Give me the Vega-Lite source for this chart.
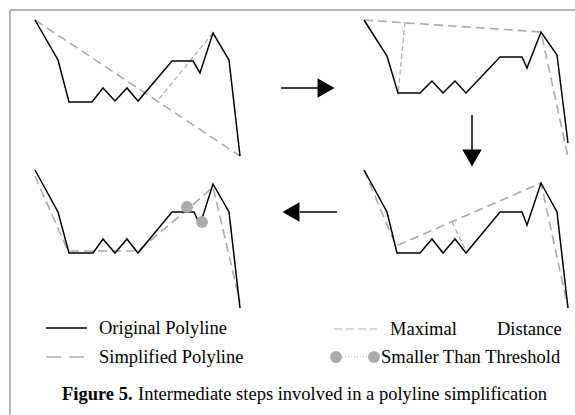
{
  "$schema": "https://vega.github.io/schema/vega-lite/v6.json",
  "width": 575,
  "height": 415,
  "autosize": "none",
  "padding": 0,
  "background": "white",
  "config": {"view": {"stroke": null}, "axis": {"disable": true}},
  "datasets": {
    "frame": [
      {"s": "top", "i": 0, "x": 10, "y": 10}, {"s": "top", "i": 1, "x": 575, "y": 10},
      {"s": "left", "i": 0, "x": 10, "y": 10}, {"s": "left", "i": 1, "x": 10, "y": 415}
    ],
    "orig": [
      {"p": "A", "i": 1, "x": 35, "y": 20}, {"p": "A", "i": 2, "x": 58, "y": 60}, {"p": "A", "i": 3, "x": 69, "y": 102}, {"p": "A", "i": 4, "x": 92, "y": 102}, {"p": "A", "i": 5, "x": 103, "y": 88}, {"p": "A", "i": 6, "x": 115, "y": 101}, {"p": "A", "i": 7, "x": 127, "y": 88}, {"p": "A", "i": 8, "x": 138, "y": 101}, {"p": "A", "i": 9, "x": 172, "y": 61}, {"p": "A", "i": 10, "x": 193, "y": 61}, {"p": "A", "i": 11, "x": 200, "y": 73}, {"p": "A", "i": 12, "x": 213, "y": 33}, {"p": "A", "i": 13, "x": 229, "y": 60}, {"p": "A", "i": 14, "x": 240, "y": 156},
      {"p": "B", "i": 1, "x": 364, "y": 20}, {"p": "B", "i": 2, "x": 387, "y": 56}, {"p": "B", "i": 3, "x": 398, "y": 93}, {"p": "B", "i": 4, "x": 420, "y": 93}, {"p": "B", "i": 5, "x": 432, "y": 81}, {"p": "B", "i": 6, "x": 443, "y": 93}, {"p": "B", "i": 7, "x": 455, "y": 81}, {"p": "B", "i": 8, "x": 466, "y": 93}, {"p": "B", "i": 9, "x": 500, "y": 57}, {"p": "B", "i": 10, "x": 522, "y": 57}, {"p": "B", "i": 11, "x": 527, "y": 68}, {"p": "B", "i": 12, "x": 541, "y": 32}, {"p": "B", "i": 13, "x": 557, "y": 55}, {"p": "B", "i": 14, "x": 568, "y": 143},
      {"p": "C", "i": 1, "x": 364, "y": 170}, {"p": "C", "i": 2, "x": 387, "y": 212}, {"p": "C", "i": 3, "x": 397, "y": 253}, {"p": "C", "i": 4, "x": 420, "y": 253}, {"p": "C", "i": 5, "x": 432, "y": 239}, {"p": "C", "i": 6, "x": 443, "y": 253}, {"p": "C", "i": 7, "x": 455, "y": 239}, {"p": "C", "i": 8, "x": 466, "y": 253}, {"p": "C", "i": 9, "x": 500, "y": 212}, {"p": "C", "i": 10, "x": 522, "y": 212}, {"p": "C", "i": 11, "x": 527, "y": 225}, {"p": "C", "i": 12, "x": 541, "y": 183}, {"p": "C", "i": 13, "x": 557, "y": 212}, {"p": "C", "i": 14, "x": 568, "y": 308},
      {"p": "D", "i": 1, "x": 35, "y": 170}, {"p": "D", "i": 2, "x": 58, "y": 212}, {"p": "D", "i": 3, "x": 69, "y": 253}, {"p": "D", "i": 4, "x": 93, "y": 253}, {"p": "D", "i": 5, "x": 103, "y": 239}, {"p": "D", "i": 6, "x": 115, "y": 253}, {"p": "D", "i": 7, "x": 127, "y": 239}, {"p": "D", "i": 8, "x": 138, "y": 253}, {"p": "D", "i": 9, "x": 172, "y": 212}, {"p": "D", "i": 10, "x": 194, "y": 212}, {"p": "D", "i": 11, "x": 200, "y": 225}, {"p": "D", "i": 12, "x": 213, "y": 184}, {"p": "D", "i": 13, "x": 229, "y": 212}, {"p": "D", "i": 14, "x": 240, "y": 308}
    ],
    "simp": [
      {"s": "A", "i": 1, "x": 35, "y": 20}, {"s": "A", "i": 2, "x": 240, "y": 156},
      {"s": "B", "i": 1, "x": 364, "y": 20}, {"s": "B", "i": 2, "x": 541, "y": 32}, {"s": "B", "i": 3, "x": 568, "y": 157},
      {"s": "C", "i": 1, "x": 364, "y": 170}, {"s": "C", "i": 2, "x": 396, "y": 246}, {"s": "C", "i": 3, "x": 541, "y": 183}, {"s": "C", "i": 4, "x": 568, "y": 308},
      {"s": "D", "i": 1, "x": 35, "y": 176}, {"s": "D", "i": 2, "x": 68, "y": 251}, {"s": "D", "i": 3, "x": 138, "y": 251}, {"s": "D", "i": 4, "x": 187, "y": 210}, {"s": "D", "i": 5, "x": 213, "y": 187}, {"s": "D", "i": 6, "x": 240, "y": 302}
    ],
    "simpleg": [
      {"i": 1, "x": 46, "y": 357}, {"i": 2, "x": 86, "y": 357}
    ],
    "maxd": [
      {"s": "A", "i": 1, "x": 213, "y": 33}, {"s": "A", "i": 2, "x": 158, "y": 100},
      {"s": "B", "i": 1, "x": 405, "y": 22}, {"s": "B", "i": 2, "x": 398, "y": 95},
      {"s": "C", "i": 1, "x": 452, "y": 222}, {"s": "C", "i": 2, "x": 466, "y": 251}
    ],
    "maxleg": [
      {"i": 1, "x": 334, "y": 329}, {"i": 2, "x": 377, "y": 329}
    ],
    "black": [
      {"s": "r", "i": 1, "x": 281, "y": 88}, {"s": "r", "i": 2, "x": 318, "y": 88},
      {"s": "d", "i": 1, "x": 472, "y": 115}, {"s": "d", "i": 2, "x": 472, "y": 150},
      {"s": "l", "i": 1, "x": 337, "y": 212}, {"s": "l", "i": 2, "x": 300, "y": 212},
      {"s": "L", "i": 1, "x": 46, "y": 328}, {"s": "L", "i": 2, "x": 87, "y": 328}
    ],
    "heads": [
      {"dir": "triangle-right", "x": 326, "y": 88},
      {"dir": "triangle-down", "x": 472, "y": 158},
      {"dir": "triangle-left", "x": 291, "y": 212}
    ],
    "dots": [
      {"x": 187, "y": 207}, {"x": 202, "y": 222}, {"x": 336, "y": 357}, {"x": 374, "y": 357}
    ],
    "dotted": [
      {"i": 1, "x": 342, "y": 357}, {"i": 2, "x": 368, "y": 357}
    ],
    "labels": [
      {"t": "Original Polyline", "x": 99, "y": 328},
      {"t": "Simplified Polyline", "x": 99, "y": 357},
      {"t": "Maximal", "x": 390, "y": 329},
      {"t": "Distance", "x": 497, "y": 329},
      {"t": "Smaller Than Threshold", "x": 381, "y": 357}
    ],
    "capbold": [
      {"t": "Figure 5.", "x": 62, "y": 394}
    ],
    "capnorm": [
      {"t": "Intermediate steps involved in a polyline simplification", "x": 138, "y": 394}
    ]
  },
  "encoding": {
    "x": {"field": "x", "type": "quantitative", "scale": {"domain": [0, 575], "nice": false, "zero": false}, "axis": null},
    "y": {"field": "y", "type": "quantitative", "scale": {"domain": [0, 415], "nice": false, "zero": false, "reverse": true}, "axis": null}
  },
  "layer": [
    {
      "data": {"name": "frame"},
      "mark": {"type": "line", "color": "#b4b4b4", "strokeWidth": 2},
      "encoding": {"detail": {"field": "s"}, "order": {"field": "i"}}
    },
    {
      "data": {"name": "simp"},
      "mark": {"type": "line", "color": "#aaaaaa", "strokeWidth": 1.6, "strokeDash": [9, 5]},
      "encoding": {"detail": {"field": "s"}, "order": {"field": "i"}}
    },
    {
      "data": {"name": "simpleg"},
      "mark": {"type": "line", "color": "#aaaaaa", "strokeWidth": 1.6, "strokeDash": [15, 8]},
      "encoding": {"order": {"field": "i"}}
    },
    {
      "data": {"name": "maxd"},
      "mark": {"type": "line", "color": "#aaaaaa", "strokeWidth": 1.2, "strokeDash": [5, 3]},
      "encoding": {"detail": {"field": "s"}, "order": {"field": "i"}}
    },
    {
      "data": {"name": "maxleg"},
      "mark": {"type": "line", "color": "#b0b0b0", "strokeWidth": 1.2, "strokeDash": [8, 4]},
      "encoding": {"order": {"field": "i"}}
    },
    {
      "data": {"name": "orig"},
      "mark": {"type": "line", "color": "#000000", "strokeWidth": 1.5},
      "encoding": {"detail": {"field": "p"}, "order": {"field": "i"}}
    },
    {
      "data": {"name": "black"},
      "mark": {"type": "line", "color": "#000000", "strokeWidth": 1.5},
      "encoding": {"detail": {"field": "s"}, "order": {"field": "i"}}
    },
    {
      "data": {"name": "heads"},
      "mark": {"type": "point", "filled": true, "color": "#000000", "size": 380, "opacity": 1},
      "encoding": {"shape": {"field": "dir", "type": "nominal", "scale": null}}
    },
    {
      "data": {"name": "dotted"},
      "mark": {"type": "line", "color": "#aaaaaa", "strokeWidth": 1, "strokeDash": [1, 2]},
      "encoding": {"order": {"field": "i"}}
    },
    {
      "data": {"name": "dots"},
      "mark": {"type": "circle", "color": "#aaaaaa", "size": 140, "opacity": 1},
      "encoding": {}
    },
    {
      "data": {"name": "labels"},
      "mark": {"type": "text", "align": "left", "baseline": "middle", "font": "Liberation Serif", "fontSize": 18.5, "color": "#000000"},
      "encoding": {"text": {"field": "t"}}
    },
    {
      "data": {"name": "capbold"},
      "mark": {"type": "text", "align": "left", "baseline": "middle", "font": "Liberation Serif", "fontSize": 18.5, "fontWeight": "bold", "color": "#000000"},
      "encoding": {"text": {"field": "t"}}
    },
    {
      "data": {"name": "capnorm"},
      "mark": {"type": "text", "align": "left", "baseline": "middle", "font": "Liberation Serif", "fontSize": 18.5, "color": "#000000"},
      "encoding": {"text": {"field": "t"}}
    }
  ]
}
